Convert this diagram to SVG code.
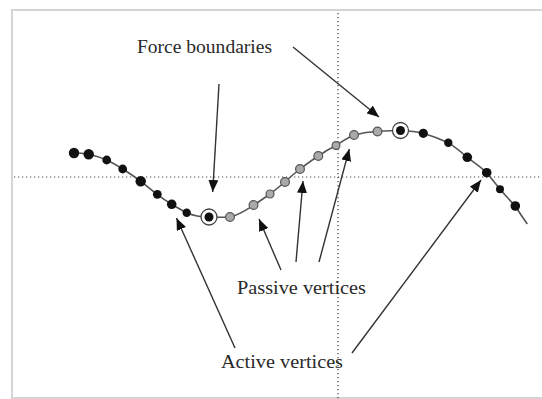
<svg xmlns="http://www.w3.org/2000/svg" width="542" height="399" viewBox="0 0 542 399">
<defs>
<style>
.lbl{font-family:"Liberation Serif","Times New Roman",serif;font-size:18px;fill:#2a2a2a}
.grid{stroke:#444;stroke-width:1.2;stroke-dasharray:1.2 2.8;fill:none}
.curve{stroke:#555;stroke-width:1.6;fill:none}
.act{fill:#111}
.pas{fill:#aaa;stroke:#555;stroke-width:1.2}
.ring{fill:#fff;stroke:#444;stroke-width:1.3}
.arr{stroke:#333;stroke-width:1.4;fill:none;marker-end:url(#ah)}
</style>
<marker id="ah" viewBox="0 0 12 10" refX="12" refY="5" markerWidth="12" markerHeight="10" markerUnits="userSpaceOnUse" orient="auto">
<path d="M0,0 L12,5 L0,10 z" fill="#111"/>
</marker>
</defs>
<rect x="0" y="0" width="542" height="399" fill="#fff"/>
<rect x="12" y="10" width="540" height="388" fill="#fff" stroke="#d4d4d4" stroke-width="2"/>
<g id="axes">
<line class="grid" x1="338" y1="13" x2="338" y2="399"/>
<line class="grid" x1="14" y1="177" x2="542" y2="177"/>
</g>
<g id="curve">
<path class="curve" d="M74,153 C80,153 84,153.5 88.7,154.3 C96,156 101,157.5 106.7,160 C113,163 118,166 122.7,169 C129,173 135,177 140.7,181.3 C147,186 152,190.5 157.3,194.3 C162,198 167,201.5 171.7,204.3 C177,207.5 182,210.5 186.7,212.7 C194,216 201,217 209,217 C216,217.3 223,217.3 230,217 C239,215 247,209.5 254,205 C260,201 265,197.5 270,194 C275,190 280,186 285,182 C290,177 295,173 300,169 C306,164.5 312,160 318.3,156 C324,152 330,148.5 336,145.5 C342,141.5 348,137.5 354,135 C362,133 370,131.8 377.5,131.5 C385,131 393,130.5 400.5,130.5 C408,130.8 416,131.5 423.3,133.3 C432,136 440,139 448.3,142.7 C455,147 461,152 467.3,157.3 C474,162.5 481,167 486.7,172.7 C491,178 496,184 500,189.3 C505,195 510,200.5 515.3,206 C519,212 523,218 527.3,224"/>
</g>
<g id="active-vertices-left">
<circle class="act" cx="74" cy="153" r="5.2"/>
<circle class="act" cx="88.7" cy="154.3" r="5.2"/>
<circle class="act" cx="106.7" cy="160" r="4.4"/>
<circle class="act" cx="122.7" cy="169" r="4.4"/>
<circle class="act" cx="140.7" cy="181.3" r="5.2"/>
<circle class="act" cx="157.3" cy="194.3" r="4.4"/>
<circle class="act" cx="171.7" cy="204.3" r="4.8"/>
<circle class="act" cx="186.7" cy="212.7" r="4.2"/>
</g>
<g id="boundary-left">
<circle class="ring" cx="209" cy="217" r="8"/>
<circle class="act" cx="209" cy="217" r="4.5"/>
</g>
<g id="passive-vertices">
<circle class="pas" cx="230" cy="217" r="4.4"/>
<circle class="pas" cx="253.5" cy="205" r="4.4"/>
<circle class="pas" cx="270" cy="194" r="4"/>
<circle class="pas" cx="285" cy="182" r="4.4"/>
<circle class="pas" cx="300" cy="169" r="4.4"/>
<circle class="pas" cx="318.3" cy="156" r="4.4"/>
<circle class="pas" cx="336" cy="145.5" r="3.9"/>
<circle class="pas" cx="354" cy="135" r="4.4"/>
<circle class="pas" cx="377.5" cy="131.5" r="4.4"/>
</g>
<g id="boundary-right">
<circle class="ring" cx="400.5" cy="130.5" r="8"/>
<circle class="act" cx="400.5" cy="130.5" r="4.5"/>
</g>
<g id="active-vertices-right">
<circle class="act" cx="423.3" cy="133.3" r="4.6"/>
<circle class="act" cx="448.3" cy="142.7" r="4.2"/>
<circle class="act" cx="467.3" cy="157.3" r="4.8"/>
<circle class="act" cx="486.7" cy="172.7" r="4.8"/>
<circle class="act" cx="500" cy="189.3" r="4"/>
<circle class="act" cx="515.3" cy="206" r="4.8"/>
</g>
<g id="connectors">
<line class="arr" x1="219" y1="84" x2="212.7" y2="192"/>
<line class="arr" x1="293" y1="47" x2="379" y2="117"/>
<line class="arr" x1="281" y1="270" x2="259" y2="219"/>
<line class="arr" x1="296" y1="262" x2="303" y2="181"/>
<line class="arr" x1="319" y1="262" x2="349.3" y2="149"/>
<line class="arr" x1="235" y1="348" x2="176.5" y2="218"/>
<line class="arr" x1="352" y1="353" x2="481" y2="180"/>
</g>
<g id="label-force">
<text class="lbl" x="137" y="53" textLength="135" lengthAdjust="spacingAndGlyphs">Force boundaries</text>
</g>
<g id="label-passive">
<text class="lbl" x="237" y="294" textLength="129" lengthAdjust="spacingAndGlyphs">Passive vertices</text>
</g>
<g id="label-active">
<text class="lbl" x="221" y="368" textLength="122" lengthAdjust="spacingAndGlyphs">Active vertices</text>
</g>
</svg>
